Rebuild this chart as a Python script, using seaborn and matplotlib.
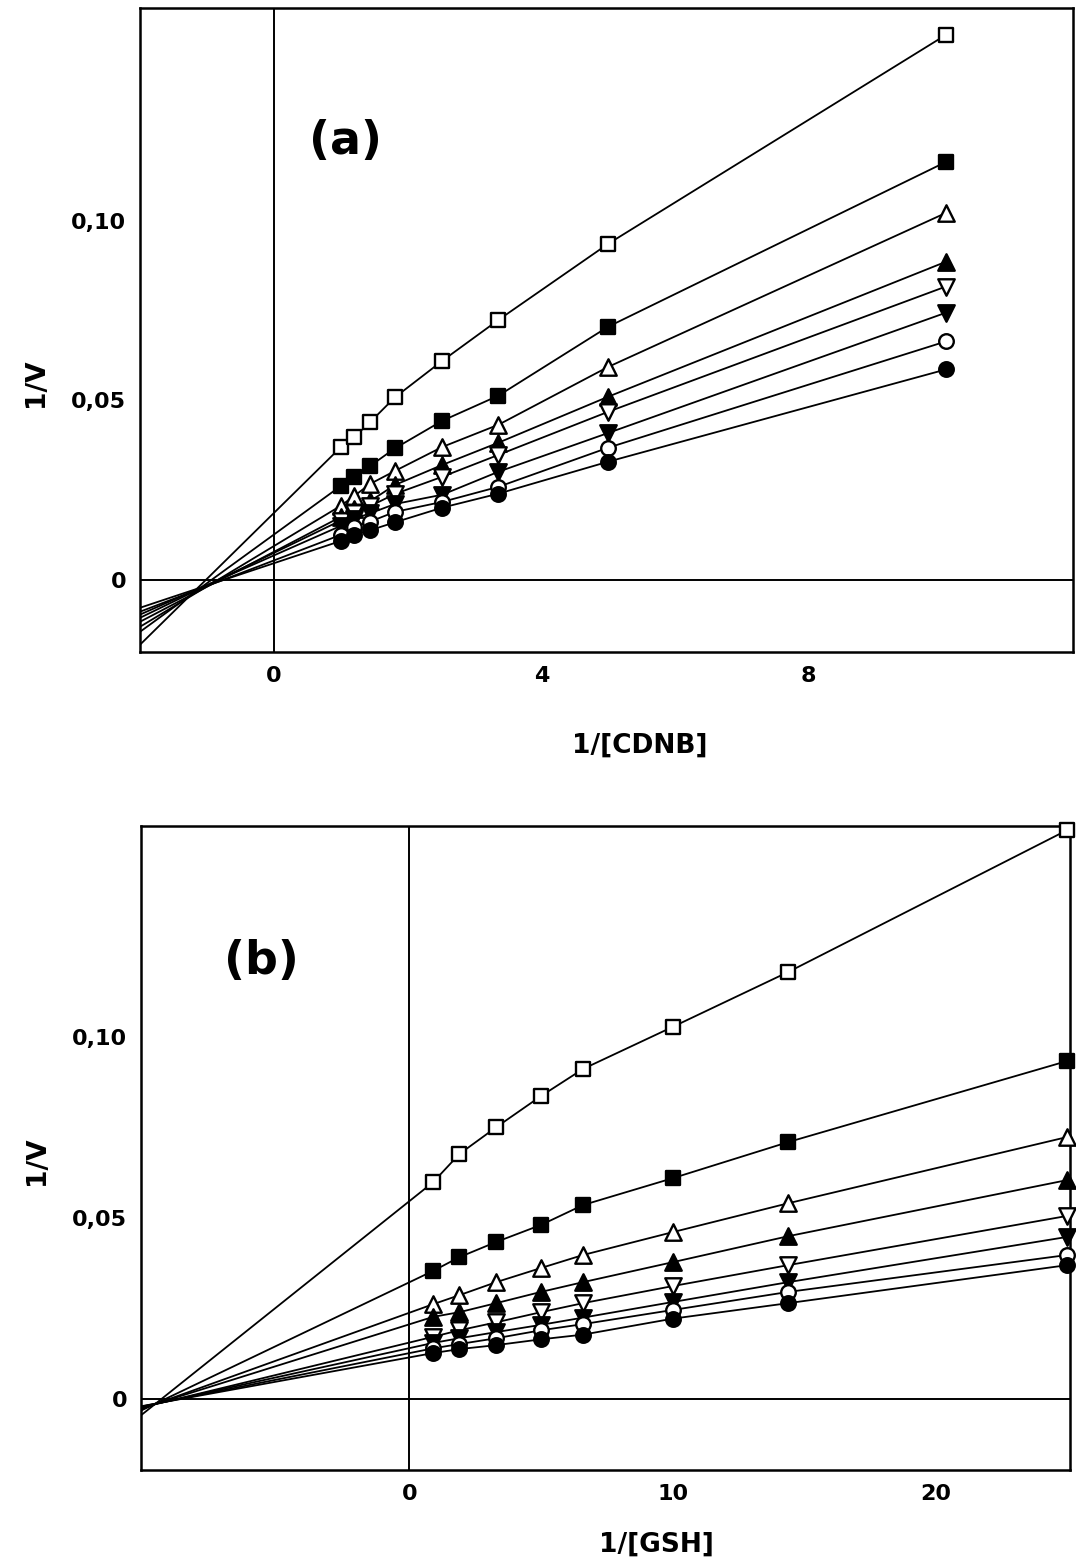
import numpy as np
import pandas as pd
import matplotlib
matplotlib.use("Agg")
import matplotlib.pyplot as plt
import seaborn as sns

# ---------------- data ----------------
series_names = ["sq_open", "sq_filled", "tri_up_open", "tri_up_filled",
                "tri_down_open", "tri_down_filled", "circ_open", "circ_filled"]
markers = ["s", "s", "^", "^", "v", "v", "o", "o"]
filled = [False, True, False, True, False, True, False, True]

# Panel (a): 1/V vs 1/[CDNB]
x_a = [1.0, 1.2, 1.44, 1.81, 2.52, 3.36, 5.0, 10.05]
y_a = {
    "sq_open":         [0.0369, 0.0397, 0.0439, 0.0508, 0.0610, 0.0724, 0.0936, 0.1518],
    "sq_filled":       [0.0261, 0.0286, 0.0317, 0.0366, 0.0443, 0.0513, 0.0705, 0.1164],
    "tri_up_open":     [0.0206, 0.0233, 0.0267, 0.0303, 0.0370, 0.0432, 0.0593, 0.1022],
    "tri_up_filled":   [0.0175, 0.0197, 0.0219, 0.0264, 0.0320, 0.0382, 0.0510, 0.0886],
    "tri_down_open":   [0.0165, 0.0185, 0.0205, 0.0239, 0.0287, 0.0348, 0.0468, 0.0817],
    "tri_down_filled": [0.0150, 0.0170, 0.0185, 0.0211, 0.0237, 0.0301, 0.0409, 0.0744],
    "circ_open":       [0.0125, 0.0148, 0.0162, 0.0189, 0.0217, 0.0259, 0.0368, 0.0664],
    "circ_filled":     [0.0108, 0.0125, 0.0138, 0.0160, 0.0201, 0.0240, 0.0329, 0.0586],
}
# extrapolated line values at the left end of the x range
a_extrap_x = -2.0
a_extrap_y = [-0.0181, -0.0145, -0.0131, -0.0117, -0.0106, -0.0097, -0.0089, -0.0078]

# Panel (b): 1/V vs 1/[GSH]
x_b = [0.9, 1.9, 3.3, 5.0, 6.6, 10.0, 14.4, 25.0]
y_b = {
    "sq_open":         [0.0599, 0.0677, 0.0751, 0.0837, 0.0912, 0.1028, 0.1180, 0.1572],
    "sq_filled":       [0.0354, 0.0392, 0.0434, 0.0481, 0.0536, 0.0610, 0.0710, 0.0934],
    "tri_up_open":     [0.0262, 0.0287, 0.0323, 0.0362, 0.0398, 0.0461, 0.0541, 0.0724],
    "tri_up_filled":   [0.0227, 0.0240, 0.0265, 0.0296, 0.0323, 0.0378, 0.0450, 0.0605],
    "tri_down_open":   [0.0172, 0.0190, 0.0212, 0.0240, 0.0265, 0.0312, 0.0370, 0.0506],
    "tri_down_filled": [0.0155, 0.0168, 0.0185, 0.0205, 0.0225, 0.0268, 0.0323, 0.0448],
    "circ_open":       [0.0140, 0.0152, 0.0168, 0.0190, 0.0207, 0.0246, 0.0296, 0.0398],
    "circ_filled":     [0.0127, 0.0138, 0.0149, 0.0165, 0.0178, 0.0222, 0.0265, 0.0370],
}
b_extrap_x = -10.2
b_extrap_y = [-0.0045, -0.0032, -0.0028, -0.0026, -0.0024, -0.0022, -0.0021, -0.0020]

a_xticks = [4, 8]
a_xticklabels = ["4", "8"]
b_xticks = [10, 20]
b_xticklabels = ["10", "20"]
y_ticks = [0.05, 0.10]
y_ticklabels = ["0,05", "0,10"]

# ---------------- style ----------------
sns.set_style("white")
plt.rcParams["font.family"] = ["DejaVu Sans"]
plt.rcParams["font.weight"] = "bold"
for key in ["text.color", "axes.labelcolor", "xtick.color", "ytick.color"]:
    plt.rcParams[key] = "black"

fig = plt.figure(figsize=(10.76, 15.63), dpi=100)
ax_a = fig.add_axes([0.1301, 0.5829, 0.8671, 0.4120])
ax_b = fig.add_axes([0.1310, 0.0595, 0.8634, 0.4120])


def draw_panel(ax, xs, ys, ex_x, ex_y, xlim, ylim, xticks, xticklabels,
               xlabel, panel_label, label_pos, ylabel_y, xlabel_pos):
    for i, name in enumerate(series_names):
        yv = ys[name]
        df = pd.DataFrame({"x": xs, "y": yv})
        sns.lineplot(data=df, x="x", y="y", ax=ax, color="black", lw=1.3,
                     sort=False, estimator=None, zorder=3)
        ext = pd.DataFrame({"x": [ex_x, xs[0]], "y": [ex_y[i], yv[0]]})
        sns.lineplot(data=ext, x="x", y="y", ax=ax, color="black", lw=1.3,
                     sort=False, estimator=None, zorder=3)
        fc = "black" if filled[i] else "white"
        size = 140 if markers[i] in ("^", "v") else 110
        sns.scatterplot(data=df, x="x", y="y", ax=ax, marker=markers[i], s=size,
                        facecolor=fc, edgecolor="black", linewidth=1.7,
                        zorder=5, clip_on=False)
    ax.axhline(0, color="black", lw=1.4, zorder=2)
    ax.axvline(0, color="black", lw=1.4, zorder=2)
    ax.set_xlim(*xlim)
    ax.set_ylim(*ylim)
    ax.set_xticks([0] + xticks)
    ax.set_xticklabels(["0"] + xticklabels)
    ax.set_yticks([0] + y_ticks)
    ax.set_yticklabels(["0"] + y_ticklabels)
    ax.tick_params(direction="in", length=9, width=1.5, labelsize=16, pad=10,
                   colors="black")
    for t in ax.get_xticklabels() + ax.get_yticklabels():
        t.set_fontweight("bold")
    for sp in ax.spines.values():
        sp.set_visible(True)
        sp.set_color("black")
        sp.set_linewidth(1.8)
    ax.set_xlabel(xlabel, fontsize=19, fontweight="bold", color="black")
    ax.set_ylabel("1/V", fontsize=19, fontweight="bold", color="black")
    ax.yaxis.set_label_coords(-0.098, ylabel_y)
    ax.xaxis.set_label_coords(*xlabel_pos)
    ax.text(label_pos[0], label_pos[1], panel_label, transform=ax.transAxes,
            fontsize=33, fontweight="bold", ha="center", va="center",
            color="black")


draw_panel(ax_a, x_a, y_a, a_extrap_x, a_extrap_y, (-2.0, 11.95), (-0.0201, 0.1593),
           a_xticks, a_xticklabels, "1/[CDNB]", "(a)", (0.22, 0.792), 0.418,
           (0.536, -0.125))
draw_panel(ax_b, x_b, y_b, b_extrap_x, b_extrap_y, (-10.2, 25.1), (-0.0196, 0.1583),
           b_xticks, b_xticklabels, "1/[GSH]", "(b)", (0.130, 0.790), 0.481,
           (0.555, -0.095))

fig.savefig("out.png", dpi=100, facecolor="white")
